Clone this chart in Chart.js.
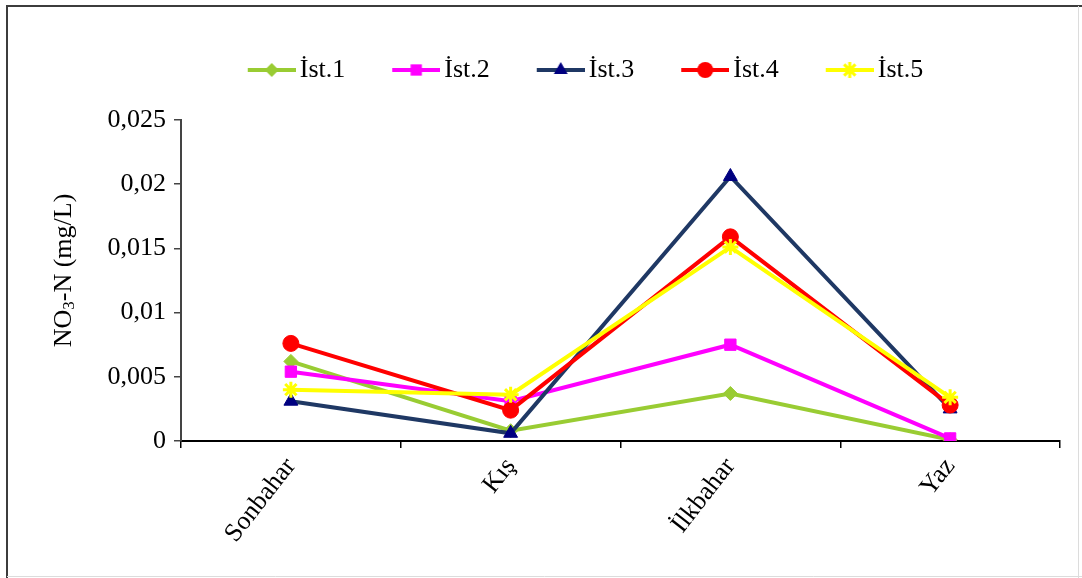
<!DOCTYPE html>
<html>
<head>
<meta charset="utf-8">
<script src="https://cdn.jsdelivr.net/npm/chart.js@4.4.1/dist/chart.umd.min.js"></script>
<style>
  html, body { margin: 0; padding: 0; background: #fff; }
  #wrap { position: relative; width: 1082px; height: 578px; }
</style>
</head>
<body>
<div id="wrap"><canvas id="c" width="1082" height="578"></canvas></div>
<script>
// Seasons on the x axis
const seasons = ['Sonbahar', 'Kış', 'İlkbahar', 'Yaz'];
// Station names
const stationNames = ['İst.1', 'İst.2', 'İst.3', 'İst.4', 'İst.5'];
// NO3-N (mg/L) per station, by season
const ist1 = [0.0062, 0.0008, 0.0037, 0.0001];
const ist2 = [0.0054, 0.0031, 0.0075, 0.0002];
const ist3 = [0.0031, 0.0006, 0.0206, 0.0025];
const ist4 = [0.0076, 0.0024, 0.0159, 0.0028];
const ist5 = [0.0040, 0.0036, 0.0151, 0.0034];
// Y tick labels (decimal comma)
const yTickLabels = ['0', '0,005', '0,01', '0,015', '0,02', '0,025'];

const SERIF = "'Liberation Serif', 'Times New Roman', serif";

const styles = [
  { line: '#99CC33', fill: '#99CC33', marker: 'rectRot', r: 7 },
  { line: '#FF00FF', fill: '#FF00FF', marker: 'rect', r: 8 },
  { line: '#1F3864', fill: '#000080', marker: 'triangle', r: 8 },
  { line: '#FF0000', fill: '#FF0000', marker: 'circle', r: 8 },
  { line: '#FFFF00', fill: '#FFFF00', marker: 'star', r: 8 }
];
const seriesData = [ist1, ist2, ist3, ist4, ist5];

// Legend icon: short line with the series marker in the middle
function markerPath(ctx, type, x, y, r) {
  ctx.beginPath();
  if (type === 'rectRot') {
    ctx.moveTo(x, y - r); ctx.lineTo(x + r, y); ctx.lineTo(x, y + r); ctx.lineTo(x - r, y); ctx.closePath();
  } else if (type === 'rect') {
    const s = r * Math.SQRT1_2;
    ctx.rect(x - s, y - s, 2 * s, 2 * s);
  } else if (type === 'triangle') {
    ctx.moveTo(x, y - r); ctx.lineTo(x + r * 0.87, y + r * 0.5); ctx.lineTo(x - r * 0.87, y + r * 0.5); ctx.closePath();
  } else if (type === 'circle') {
    ctx.arc(x, y, r, 0, Math.PI * 2);
  } else if (type === 'star') {
    for (let k = 0; k < 4; k++) {
      const a = k * Math.PI / 4;
      ctx.moveTo(x - Math.cos(a) * r, y - Math.sin(a) * r);
      ctx.lineTo(x + Math.cos(a) * r, y + Math.sin(a) * r);
    }
  }
}
function legendIcon(st) {
  const cv = document.createElement('canvas');
  cv.width = 76; cv.height = 24;
  const g = cv.getContext('2d');
  g.strokeStyle = st.line; g.lineWidth = 4;
  g.beginPath(); g.moveTo(28, 12); g.lineTo(76, 12); g.stroke();
  markerPath(g, st.marker, 52, 12, st.r);
  if (st.marker === 'star') {
    g.strokeStyle = st.fill; g.lineWidth = 3; g.stroke();
  } else {
    g.fillStyle = st.fill; g.fill();
  }
  return cv;
}
const legendIcons = styles.map(legendIcon);

const datasets = seriesData.map((vals, i) => ({
  label: stationNames[i],
  data: vals,
  borderColor: styles[i].line,
  backgroundColor: styles[i].fill,
  borderWidth: 4,
  tension: 0,
  fill: false,
  pointStyle: styles[i].marker,
  pointRadius: styles[i].r,
  pointHoverRadius: styles[i].r,
  pointBackgroundColor: styles[i].fill,
  pointBorderColor: styles[i].fill,
  pointBorderWidth: styles[i].marker === 'star' ? 3 : 1,
  order: 5 - i
}));

// Empty band between the legend and the plot area
const legendGap = {
  id: 'legendGap',
  beforeInit(chart) {
    Chart.layouts.addBox(chart, {
      position: 'top',
      weight: 500,
      fullSize: true,
      options: { stackWeight: 1 },
      left: 0, top: 0, right: 0, bottom: 0, width: 0, height: 0,
      isHorizontal() { return true; },
      getPadding() { return { left: 0, top: 0, right: 0, bottom: 0 }; },
      update(maxWidth) { this.width = maxWidth; this.height = 27; },
      draw() {}
    });
  }
};

// Frame lines around the figure and the y axis title with subscript
const decor = {
  id: 'decor',
  beforeDraw(chart) {
    const ctx = chart.ctx;
    ctx.save();
    ctx.fillStyle = '#fff';
    ctx.fillRect(0, 0, chart.width, chart.height);
    ctx.strokeStyle = '#3c3c3c';
    ctx.lineWidth = 2;
    ctx.beginPath();
    ctx.moveTo(7, 578); ctx.lineTo(7, 6); ctx.lineTo(1082, 6);
    ctx.stroke();
    ctx.strokeStyle = '#dcdcdc';
    ctx.lineWidth = 1;
    ctx.beginPath();
    ctx.moveTo(7, 576.5); ctx.lineTo(1082, 576.5);
    ctx.moveTo(1078.5, 6); ctx.lineTo(1078.5, 578);
    ctx.stroke();
    ctx.restore();
  },
  afterDraw(chart) {
    const ctx = chart.ctx;
    const area = chart.chartArea;
    const parts = [
      { t: 'NO', size: 26, dy: 0 },
      { t: '3', size: 17, dy: 6 },
      { t: '-N (mg/L)', size: 26, dy: 0 }
    ];
    ctx.save();
    let total = 0;
    parts.forEach(p => { ctx.font = p.size + 'px ' + SERIF; p.w = ctx.measureText(p.t).width; total += p.w; });
    ctx.translate(64, (area.top + area.bottom) / 2 - 10);
    ctx.rotate(-Math.PI / 2);
    ctx.fillStyle = '#000';
    ctx.textBaseline = 'middle';
    ctx.textAlign = 'left';
    let x = -total / 2;
    parts.forEach(p => {
      ctx.font = p.size + 'px ' + SERIF;
      ctx.fillText(p.t, x, p.dy);
      x += p.w;
    });
    ctx.restore();
  }
};

new Chart(document.getElementById('c'), {
  type: 'line',
  data: { labels: seasons, datasets },
  plugins: [decor, legendGap],
  options: {
    responsive: false,
    devicePixelRatio: 1,
    animation: false,
    layout: { padding: { top: 29, left: 92, right: 22, bottom: 0 } },
    plugins: {
      tooltip: { enabled: false },
      legend: {
        position: 'top',
        labels: {
          usePointStyle: true,
          pointStyleWidth: 58,
          padding: 28,
          color: '#000',
          font: { family: SERIF, size: 26 },
          generateLabels: (chart) => chart.data.datasets.map((ds, i) => ({
            text: ds.label,
            pointStyle: legendIcons[i],
            fillStyle: ds.backgroundColor,
            strokeStyle: ds.borderColor,
            lineWidth: 0,
            hidden: false,
            datasetIndex: i,
            fontColor: '#000'
          }))
        }
      }
    },
    scales: {
      x: {
        type: 'category',
        offset: true,
        grid: { offset: true, drawOnChartArea: false, drawTicks: true, tickLength: 7, color: '#000', lineWidth: 1.5 },
        border: { color: '#000', width: 2 },
        ticks: { color: '#000', font: { family: SERIF, size: 26 }, minRotation: 52, maxRotation: 52, padding: 4 },
        afterFit: (s) => { s.height = 137; }
      },
      y: {
        min: 0,
        max: 0.025,
        grid: { drawOnChartArea: false, drawTicks: true, tickLength: 7, color: '#444', lineWidth: 1.5 },
        border: { color: '#444', width: 2 },
        ticks: {
          stepSize: 0.005,
          color: '#000',
          font: { family: SERIF, size: 26 },
          padding: 8,
          callback: (v, i) => yTickLabels[i]
        },
        afterFit: (s) => { s.width = 89; }
      }
    }
  }
});
</script>
</body>
</html>
